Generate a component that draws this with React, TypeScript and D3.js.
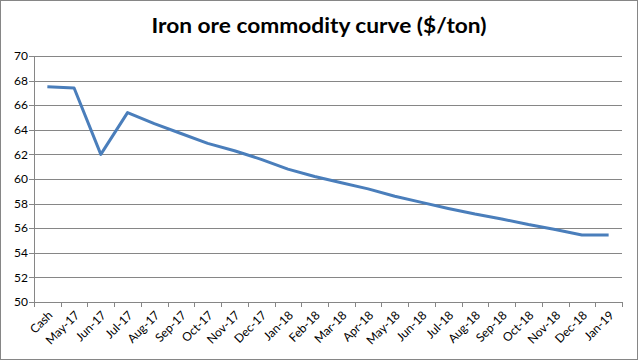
import React from 'react';
import * as d3 from 'd3';

const months = ['Cash', 'May-17', 'Jun-17', 'Jul-17', 'Aug-17', 'Sep-17', 'Oct-17', 'Nov-17', 'Dec-17',
    'Jan-18', 'Feb-18', 'Mar-18', 'Apr-18', 'May-18', 'Jun-18', 'Jul-18', 'Aug-18', 'Sep-18', 'Oct-18',
    'Nov-18', 'Dec-18', 'Jan-19'];
const prices = [67.5, 67.4, 62.0, 65.4, 64.5, 63.7, 62.9, 62.3, 61.6, 60.8, 60.2, 59.7, 59.2, 58.6,
    58.1, 57.6, 57.15, 56.75, 56.3, 55.9, 55.45, 55.45];
const yTicks = [50, 52, 54, 56, 58, 60, 62, 64, 66, 68, 70];

const width = 638;
const height = 360;
const left = 34;
const right = 622;
const top = 56;
const bottom = 302;
const grey = '#868686';
const font = 'Lato, "Open Sans", sans-serif';

export default function App() {
    const x = d3.scaleBand().domain(months).range([left, right]);
    const y = d3.scaleLinear().domain([50, 70]).range([bottom, top]);

    const line = d3.line<number>()
        .x((d, i) => x(months[i])! + x.bandwidth() / 2)
        .y((d) => y(d));

    const edges = months.map((m) => x(m)!).concat([right]);

    return (
        <svg width={width} height={height} style={{ display: 'block', position: 'absolute', left: 0, top: 0 }}>
            <rect x={0.5} y={0.5} width={width - 1} height={height - 1} fill="white" stroke={grey} />
            <text x={width / 2} y={33} textAnchor="middle" fontFamily={font} fontWeight="bold"
                fontSize={20} textLength={335} lengthAdjust="spacingAndGlyphs" fill="#000">
                Iron ore commodity curve ($/ton)
            </text>

            {yTicks.map((t) => (
                <g key={t}>
                    {t > 50 && (
                        <line x1={left} x2={right} y1={Math.round(y(t)) + 0.5} y2={Math.round(y(t)) + 0.5}
                            stroke={grey} />
                    )}
                    <line x1={left - 5} x2={left} y1={Math.round(y(t)) + 0.5} y2={Math.round(y(t)) + 0.5}
                        stroke={grey} />
                    <text x={left - 6} y={y(t)} dy="0.35em" textAnchor="end" fontFamily={font}
                        fontSize={12} fill="#000">{t}</text>
                </g>
            ))}

            <line x1={left + 0.5} x2={left + 0.5} y1={top} y2={bottom} stroke={grey} />
            <line x1={left} x2={right} y1={Math.round(bottom) + 0.5} y2={Math.round(bottom) + 0.5} stroke={grey} />
            {edges.map((e, i) => (
                <line key={i} x1={Math.round(e) + 0.5} x2={Math.round(e) + 0.5} y1={bottom} y2={bottom + 5}
                    stroke={grey} />
            ))}

            {months.map((m) => {
                const cx = x(m)! + x.bandwidth() / 2 + 3;
                return (
                    <text key={m} transform={`translate(${cx},${bottom + 11}) rotate(-45)`} textAnchor="end"
                        dy="0.35em" fontFamily={font} fontSize={12} fill="#000">{m}</text>
                );
            })}

            <path d={line(prices) ?? ''} fill="none" stroke="#4A7EBB" strokeWidth={3}
                strokeLinejoin="round" />
        </svg>
    );
}
